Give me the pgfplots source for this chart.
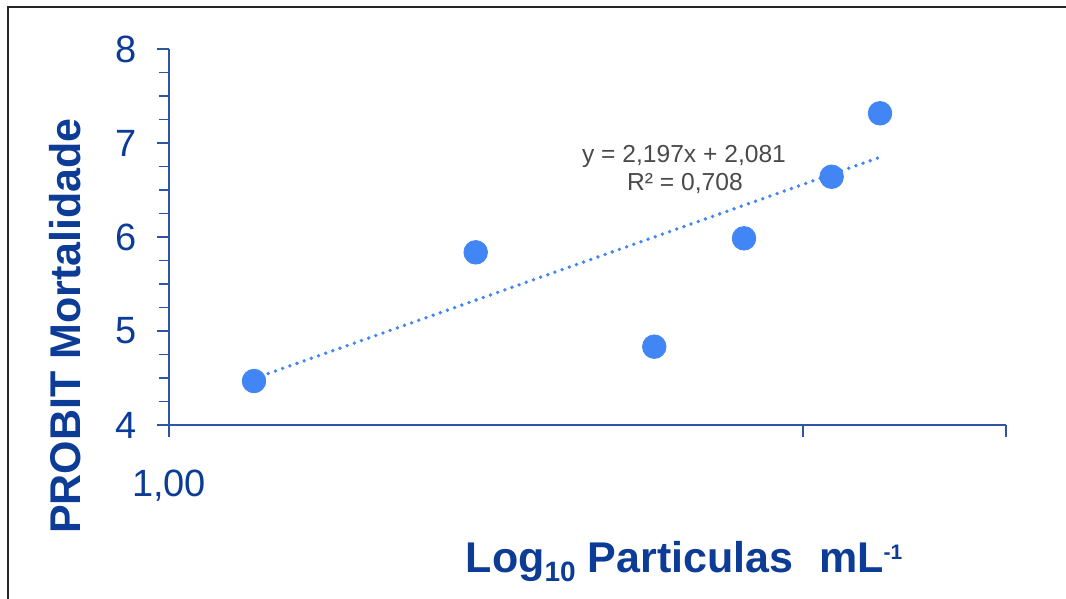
\documentclass[border=0pt]{standalone}
\usepackage{fontspec}
\setmainfont{Liberation Sans}
\usepackage{pgfplots}
\pgfplotsset{compat=1.18}
\definecolor{txtblue}{HTML}{0C3C96}
\definecolor{axblue}{HTML}{2E54A5}
\definecolor{ptblue}{HTML}{4285F4}
\definecolor{eqgray}{HTML}{4A4A4A}
\begin{document}
\begin{tikzpicture}[x=1pt,y=1pt]
\useasboundingbox (0,0) rectangle (533,299.5);
\draw[line width=0.8pt,black!85] (4,0) -- (4,296) -- (533,296);
\begin{axis}[
  at={(84.5pt,87pt)}, anchor=south west,
  scale only axis, width=418.5pt, height=188pt,
  xmin=1, xmax=2.4357, ymin=4, ymax=8,
  axis x line*=bottom, axis y line*=left,
  axis line style={axblue, line width=0.6pt, -},
  every tick/.style={axblue, line width=0.6pt},
  tick align=outside,
  major tick length=6pt, minor tick length=5pt,
  xtick={1,2.0875,2.4357}, xticklabels={1{,}00,,},
  ytick={4,5,6,7,8}, minor y tick num=3,
  /pgf/number format/assume math mode=true,
  ticklabel style={font=\fontsize{19}{21}\selectfont, text=txtblue, inner sep=0pt},
  xticklabel style={anchor=base, yshift=-30pt},
  yticklabel style={anchor=east, xshift=-10pt},
  clip=false,
]
\addplot[only marks, mark=*, mark size=5.9pt, color=ptblue, mark options={fill=ptblue, draw=ptblue}]
  coordinates {(1.1458,4.468) (1.5261,5.837) (1.8324,4.833) (1.9863,5.986) (2.1367,6.641) (2.2196,7.316)};
\addplot[ptblue, line width=1.9pt, line cap=round, dash pattern=on 0pt off 3.8pt]
  coordinates {(1.1458,4.494) (2.2196,6.849)};
\end{axis}
\node[anchor=base, text=eqgray, font=\fontsize{12.3}{14}\selectfont, inner sep=0pt] at (342,218) {y = 2,197x + 2,081};
\node[anchor=base, text=eqgray, font=\fontsize{12.3}{14}\selectfont, inner sep=0pt] at (342.5,204) {R² = 0,708};
\node[anchor=base, text=txtblue, font=\fontsize{21.5}{24}\selectfont\bfseries, inner sep=0pt] at (342,13)
  {Log\raisebox{-4.5pt}{\fontsize{14}{16}\selectfont 10} Particulas\hspace{0.6em}mL\raisebox{6.5pt}{\fontsize{10.5}{12}\selectfont -1}};
\node[anchor=base, rotate=90, text=txtblue, font=\fontsize{21.5}{24}\selectfont\bfseries, inner sep=0pt] at (40,136.5) {PROBIT Mortalidade};
\end{tikzpicture}
\end{document}
